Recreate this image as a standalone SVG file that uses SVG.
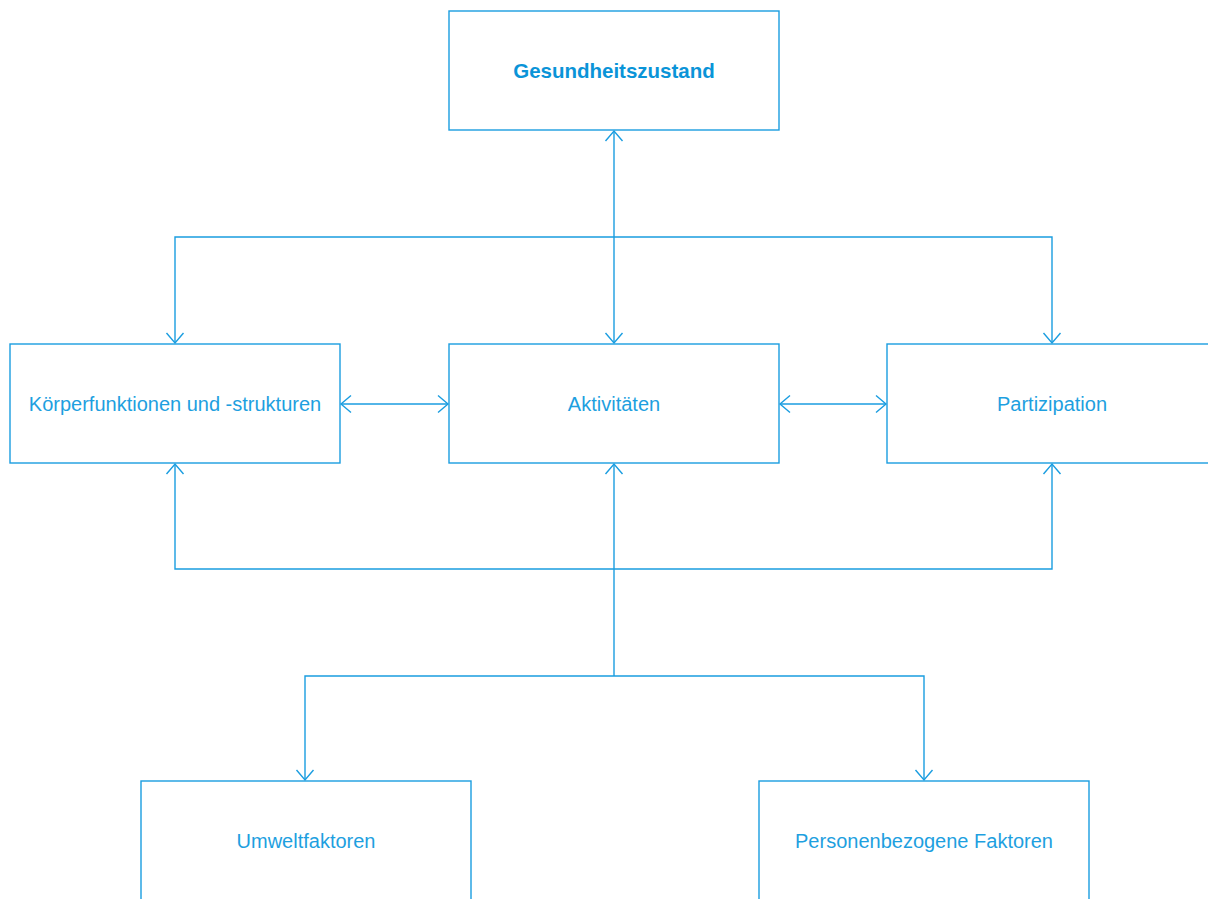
<svg xmlns="http://www.w3.org/2000/svg" width="1208" height="899" viewBox="0 0 1208 899">
<defs>
<marker id="arr" viewBox="-12 -10 14 20" markerWidth="14" markerHeight="20" refX="0" refY="0" orient="auto-start-reverse" markerUnits="userSpaceOnUse">
<path d="M-10,-8.5 L0,0 L-10,8.5" fill="none" stroke="#1a9de0" stroke-width="1.4"/>
</marker>
</defs>
<style>
.box{fill:#fff;stroke:#1a9de0;stroke-width:1.4}
.lbl{font-family:"Liberation Sans",Arial,sans-serif;font-size:20px;fill:#1e9fe0;text-anchor:middle}
.ttl{font-family:"Liberation Sans",Arial,sans-serif;font-size:20.5px;font-weight:bold;fill:#0a94d8;text-anchor:middle}
.con{fill:none;stroke:#1a9de0;stroke-width:1.4}
</style>
<rect width="1208" height="899" fill="#fff"/>
<g id="connectors">
<path class="con" d="M614,131 L614,343" marker-start="url(#arr)" marker-end="url(#arr)"/>
<path class="con" d="M175,343 L175,237 L1052,237 L1052,343" marker-start="url(#arr)" marker-end="url(#arr)"/>
<path class="con" d="M341,404 L448,404" marker-start="url(#arr)" marker-end="url(#arr)"/>
<path class="con" d="M780,404 L886,404" marker-start="url(#arr)" marker-end="url(#arr)"/>
<path class="con" d="M175,464 L175,569 L1052,569 L1052,464" marker-start="url(#arr)" marker-end="url(#arr)"/>
<path class="con" d="M614,676 L614,464" marker-end="url(#arr)"/>
<path class="con" d="M305,780 L305,676 L924,676 L924,780" marker-start="url(#arr)" marker-end="url(#arr)"/>
</g>
<g id="gesundheitszustand">
<rect class="box" x="449" y="11" width="330" height="119"/>
<text class="ttl" x="614" y="78">Gesundheitszustand</text>
</g>
<g id="koerperfunktionen">
<rect class="box" x="10" y="344" width="330" height="119"/>
<text class="lbl" x="175" y="411">Körperfunktionen und -strukturen</text>
</g>
<g id="aktivitaeten">
<rect class="box" x="449" y="344" width="330" height="119"/>
<text class="lbl" x="614" y="411">Aktivitäten</text>
</g>
<g id="partizipation">
<rect class="box" x="887" y="344" width="330" height="119"/>
<text class="lbl" x="1052" y="411">Partizipation</text>
</g>
<g id="umweltfaktoren">
<rect class="box" x="141" y="781" width="330" height="130"/>
<text class="lbl" x="306" y="848">Umweltfaktoren</text>
</g>
<g id="personenbezogene">
<rect class="box" x="759" y="781" width="330" height="130"/>
<text class="lbl" x="924" y="848">Personenbezogene Faktoren</text>
</g>
</svg>
